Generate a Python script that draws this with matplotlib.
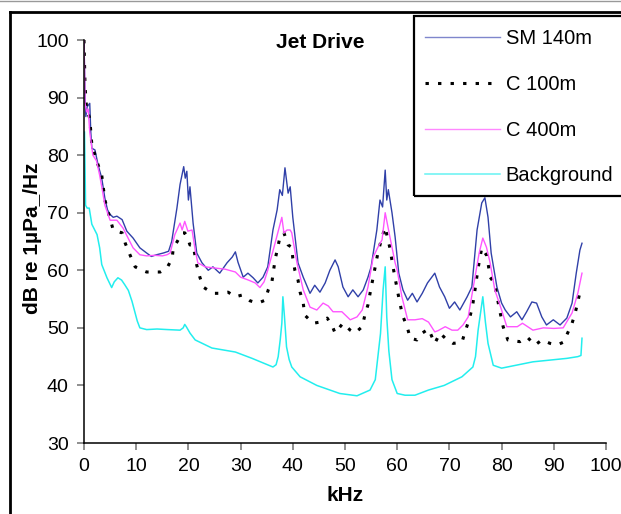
import matplotlib
matplotlib.use("Agg")
import matplotlib.pyplot as plt
from matplotlib.patches import Rectangle
from matplotlib.lines import Line2D

plt.rcParams['font.family'] = ['Liberation Sans', 'DejaVu Sans']

# ---------------- data ----------------
sm140_khz = [0.0, 0.1, 0.2, 0.35, 0.6, 1.1, 1.3, 1.5, 2.1, 2.7, 3.4, 4.0, 4.5, 5.0, 5.6, 6.3, 7.3, 8.2,
             9.4, 10.7, 12.0, 12.9, 13.9, 15.2, 16.2, 16.8, 17.8, 18.4, 19.1, 19.4, 19.7, 20.0, 20.3, 20.9,
             21.6, 22.6, 23.8, 24.7, 26.0, 27.4, 28.4, 29.0, 29.5, 30.5, 31.4, 32.4, 33.3, 34.3, 35.2,
             36.2, 37.0, 37.5, 38.0, 38.5, 39.1, 39.5, 40.0, 41.0, 42.0, 43.3, 44.2, 45.2, 46.2, 47.1,
             48.1, 48.7, 49.6, 50.6, 51.5, 52.5, 53.5, 54.4, 55.0, 56.1, 56.7, 57.2, 57.7, 58.0, 58.3,
             59.0, 59.6, 60.3, 61.1, 62.0, 62.9, 63.8, 64.8, 65.8, 67.2, 68.1, 69.1, 70.0, 71.0, 72.0,
             73.4, 74.3, 75.3, 76.2, 76.8, 77.4, 78.0, 79.1, 80.0, 80.7, 81.7, 82.9, 83.9, 84.8, 85.8,
             86.7, 87.7, 88.6, 89.9, 91.2, 92.5, 93.5, 94.3, 95.0, 95.4]
sm140_db = [100, 95, 90, 86.7, 88.4, 89, 84, 81.2, 80.9, 78.3, 76, 72.5, 70.5, 69.7, 69.2, 69.4, 68.8, 66.8,
            65.6, 63.9, 63.0, 62.4, 62.7, 63.0, 63.3, 65.0, 70.8, 74.9, 78.0, 76.0, 77.2, 72.2, 74.5, 68.2,
            63.0, 61.3, 60.0, 60.6, 59.5, 61.3, 62.3, 63.2, 61.4, 58.8, 59.5, 58.7, 57.8, 58.8, 60.6,
            67.0, 70.5, 74.0, 73.0, 77.8, 73.4, 74.5, 69.2, 61.3, 58.8, 56.0, 57.4, 56.2, 57.8, 60.0,
            61.8, 60.6, 57.1, 55.4, 56.6, 55.4, 56.6, 58.8, 60.6, 67.0, 72.2, 71.0, 77.4, 72.2, 74.0,
            70.0, 65.8, 59.5, 56.6, 54.8, 56.0, 54.5, 56.0, 57.8, 59.5, 57.1, 55.4, 53.4, 54.5, 53.1,
            55.4, 57.1, 67.0, 71.7, 72.6, 69.2, 63.0, 57.1, 54.3, 53.1, 51.9, 52.8, 51.4, 52.8, 54.5,
            54.3, 51.9, 50.5, 51.4, 50.5, 51.7, 54.3, 59.5, 63.5, 64.7]

c100_khz = [0.0, 0.2, 0.5, 1.1, 1.5, 2.7, 3.4, 4.0, 5.6, 7.3, 7.9, 8.8, 9.8, 11.1, 12.0, 14.6, 15.9, 16.9,
            17.1, 17.8, 18.8, 19.3, 19.7, 20.3, 20.9, 21.6, 22.2, 22.8, 24.7, 26.0, 27.6, 29.0, 30.3,
            31.8, 33.3, 34.7, 35.3, 36.0, 36.6, 37.5, 38.3, 39.1, 39.8, 40.0, 40.4, 41.0, 41.4, 42.0,
            42.3, 43.9, 45.2, 46.6, 47.7, 48.1, 49.6, 51.0, 51.9, 53.3, 53.8, 54.4, 54.8, 55.4, 56.3,
            57.1, 57.7, 58.1, 58.6, 59.2, 60.1, 61.0, 61.9, 62.5, 63.8, 64.8, 66.0, 67.2, 68.2, 69.2,
            70.7, 72.4, 73.0, 73.8, 74.4, 74.9, 75.5, 76.2, 77.2, 77.8, 78.6, 79.1, 79.5, 80.3, 81.2,
            83.5, 84.9, 86.4, 87.7, 89.3, 90.6, 91.8, 92.5, 93.5, 94.1, 94.6, 95.0]
c100_db = [100, 92, 88, 86.4, 81.8, 78.3, 76.5, 72.2, 67, 66.5, 64.7, 62.7, 60.6, 60.0, 59.7, 59.7, 60.4, 62.1,
           63.9, 64.9, 66.5, 66.5, 66.0, 64.4, 64.4, 60.9, 58.8, 57.1, 56.0, 56.0, 56.2, 55.4, 55.7,
           54.7, 54.3, 54.8, 56.6, 58.0, 61.8, 65.6, 66.5, 64.4, 64.0, 62.1, 60.0, 58.3, 56.2, 54.3,
           52.2, 50.8, 51.0, 51.7, 50.0, 49.1, 50.8, 49.6, 49.1, 50.2, 52.2, 54.0, 56.0, 58.8, 63.0,
           65.8, 67.5, 65.8, 63.9, 60.6, 56.2, 52.2, 50.2, 48.2, 47.9, 49.1, 49.8, 47.3, 49.1, 48.2,
           47.3, 47.5, 49.3, 51.5, 53.6, 56.6, 60.4, 63.9, 62.5, 58.8, 57.8, 55.7, 53.6, 50.2, 47.9,
           47.6, 48.4, 47.0, 47.9, 47.3, 47.0, 47.5, 48.8, 50.8, 52.6, 54.5, 56.2]

c400_khz = [0.0, 0.1, 0.2, 0.5, 0.8, 1.1, 1.7, 2.4, 3.0, 3.5, 4.0, 5.0, 6.3, 7.5, 8.5, 9.4, 10.7, 12.0,
            13.5, 15.0, 15.9, 16.5, 17.4, 18.4, 18.8, 19.3, 19.9, 20.7, 21.3, 21.8, 23.2, 25.0, 27.0,
            29.0, 30.0, 31.5, 32.8, 33.7, 34.5, 35.2, 36.6, 37.9, 38.3, 38.9, 39.5, 39.8, 40.8, 42.0,
            43.3, 44.6, 45.8, 46.8, 47.7, 49.4, 51.0, 52.3, 53.3, 54.4, 55.4, 56.3, 57.1, 57.7, 58.6,
            59.6, 60.0, 60.9, 62.0, 63.4, 64.8, 66.0, 67.2, 67.8, 69.2, 70.5, 71.6, 72.6, 73.6, 74.9,
            75.7, 76.4, 77.1, 77.8, 78.7, 80.0, 81.0, 83.0, 84.0, 86.0, 88.0, 90.0, 91.8, 93.5, 94.6, 95.4]
c400_db = [100, 95, 89, 87.5, 88, 84, 80, 79, 76.5, 74, 71.3, 68.7, 68.7, 67.3, 65.5, 63.9, 62.7, 62.5,
           62.6, 62.5, 62.7, 63.0, 66.2, 68.2, 67.0, 68.5, 66.8, 67.0, 63.5, 61.3, 60.6, 60.4, 60.2,
           59.7, 58.8, 58.3, 57.8, 57.0, 58.0, 60.0, 64.7, 69.2, 66.5, 67.0, 67.0, 66.5, 61.3, 56.6,
           53.6, 53.1, 54.3, 53.8, 52.8, 52.8, 51.4, 51.9, 53.1, 57.1, 62.3, 64.0, 65.3, 70.0, 65.8,
           61.3, 60.0, 55.4, 51.4, 51.4, 51.6, 51.0, 49.3, 49.5, 50.2, 49.6, 49.6, 50.5, 51.9, 58.8,
           63.0, 65.6, 64.0, 61.3, 56.6, 53.1, 50.2, 50.2, 50.8, 49.6, 50.0, 49.9, 50.0, 52.6, 56.0, 59.5]

bg_khz = [0.1, 0.2, 0.3, 0.6, 1.0, 1.5, 2.5, 3.0, 3.4, 4.4, 5.3, 5.8, 6.5, 7.2, 7.8, 8.5, 9.2, 10.2, 10.7,
          12.0, 14.0, 16.0, 18.4, 19.0, 19.3, 19.6, 20.3, 21.3, 24.5, 29.0, 32.2, 36.2, 36.8, 37.2, 37.6,
          37.9, 38.1, 38.4, 38.8, 39.3, 39.8, 41.4, 44.6, 49.0, 52.3, 54.8, 55.8, 56.3, 56.8, 57.3, 57.7,
          58.0, 58.4, 59.0, 60.0, 61.5, 63.4, 66.0, 69.0, 72.4, 74.5, 75.0, 75.5, 76.4, 76.9, 77.4, 78.4,
          80.0, 86.0, 92.5, 94.6, 95.2, 95.4]
bg_db = [84, 78, 71.3, 70.8, 70.8, 68, 66.2, 63.9, 61, 58.7, 57, 58, 58.7, 58.3, 57.5, 56.5, 54.6, 51.2, 50,
         49.7, 49.8, 49.7, 49.6, 50.0, 50.6, 50.2, 49.1, 47.9, 46.5, 45.8, 44.7, 43.2, 43.6, 45, 48,
         50.8, 55.4, 52, 46.7, 44.5, 43.2, 41.5, 40, 38.6, 38.2, 39.2, 41, 45, 49, 56.6, 60.6,
         51.9, 46, 41, 38.6, 38.3, 38.3, 39.2, 40, 41.5, 43.2, 45, 49.6, 55.4, 51, 47.3, 43.5,
         43, 44.1, 44.7, 45, 45.2, 48.2]

series_names = ['SM 140m', 'C 100m', 'C 400m', 'Background']
xticks = [0, 10, 20, 30, 40, 50, 60, 70, 80, 90, 100]
yticks = [30, 40, 50, 60, 70, 80, 90, 100]

W, H = 621, 514
fig = plt.figure(figsize=(W / 100, H / 100), dpi=100)
ax = fig.add_axes([84 / W, 1 - 443 / H, 522 / W, 403 / H])

l1, = ax.plot(sm140_khz, sm140_db, color='#3040A8', lw=1.0, label=series_names[0])
l2, = ax.plot(c100_khz, c100_db, color='black', lw=2.2, linestyle=(0, (1.1, 3.0)),
              dash_capstyle='butt', label=series_names[1])
l3, = ax.plot(c400_khz, c400_db, color='#FF55FF', lw=1.0, label=series_names[2])
l4, = ax.plot(bg_khz, bg_db, color='#22EEEE', lw=1.1, label=series_names[3])

ax.set_xlim(0, 100)
ax.set_ylim(30, 100)
ax.set_xticks(xticks)
ax.set_yticks(yticks)
for s in ['top', 'right']:
    ax.spines[s].set_visible(False)
for s in ['left', 'bottom']:
    ax.spines[s].set_linewidth(1.1)
    ax.spines[s].set_color('black')
ax.tick_params(axis='both', direction='out', length=5, width=1.1, color='#707070',
               labelsize=14, pad=6)
ax.set_xlabel('kHz', fontsize=15, fontweight='bold', labelpad=8)
fig.text(33 / W, 1 - 238 / H, 'dB re 1µPa_/Hz', rotation=90, ha='center', va='center',
         fontsize=15, fontweight='bold')
fig.text(320 / W, 1 - 42 / H, 'Jet Drive', ha='center', va='center', fontsize=15, fontweight='bold')

# legend
leg = fig.legend(handles=[l1, l2, l3, l4], loc='upper left',
                 bbox_to_anchor=(425 / W, 1 - 29 / H), frameon=False, fontsize=14.5,
                 handlelength=3.7, handletextpad=0.3, labelspacing=1.33,
                 borderpad=0, borderaxespad=0)
leg.legend_handles[0].set_color('#7F86CC')
leg.legend_handles[2].set_color('#FF88FF')
leg.legend_handles[3].set_color('#66F2F2')
fig.patches.append(Rectangle((414 / W, 1 - 196 / H), 320 / W, 180 / H, transform=fig.transFigure,
                             fill=False, edgecolor='black', lw=1.6, zorder=5))

# chart area border
fig.add_artist(Line2D([10 / W, 1.0], [1 - 12 / H, 1 - 12 / H], transform=fig.transFigure,
                      color='black', lw=2.0))
fig.add_artist(Line2D([10 / W, 10 / W], [0, 1 - 12 / H], transform=fig.transFigure,
                      color='black', lw=2.0))
fig.add_artist(Line2D([0, 1], [1 - 0.5 / H, 1 - 0.5 / H], transform=fig.transFigure,
                      color='#999999', lw=1.0))

fig.savefig('out.png', dpi=100)
